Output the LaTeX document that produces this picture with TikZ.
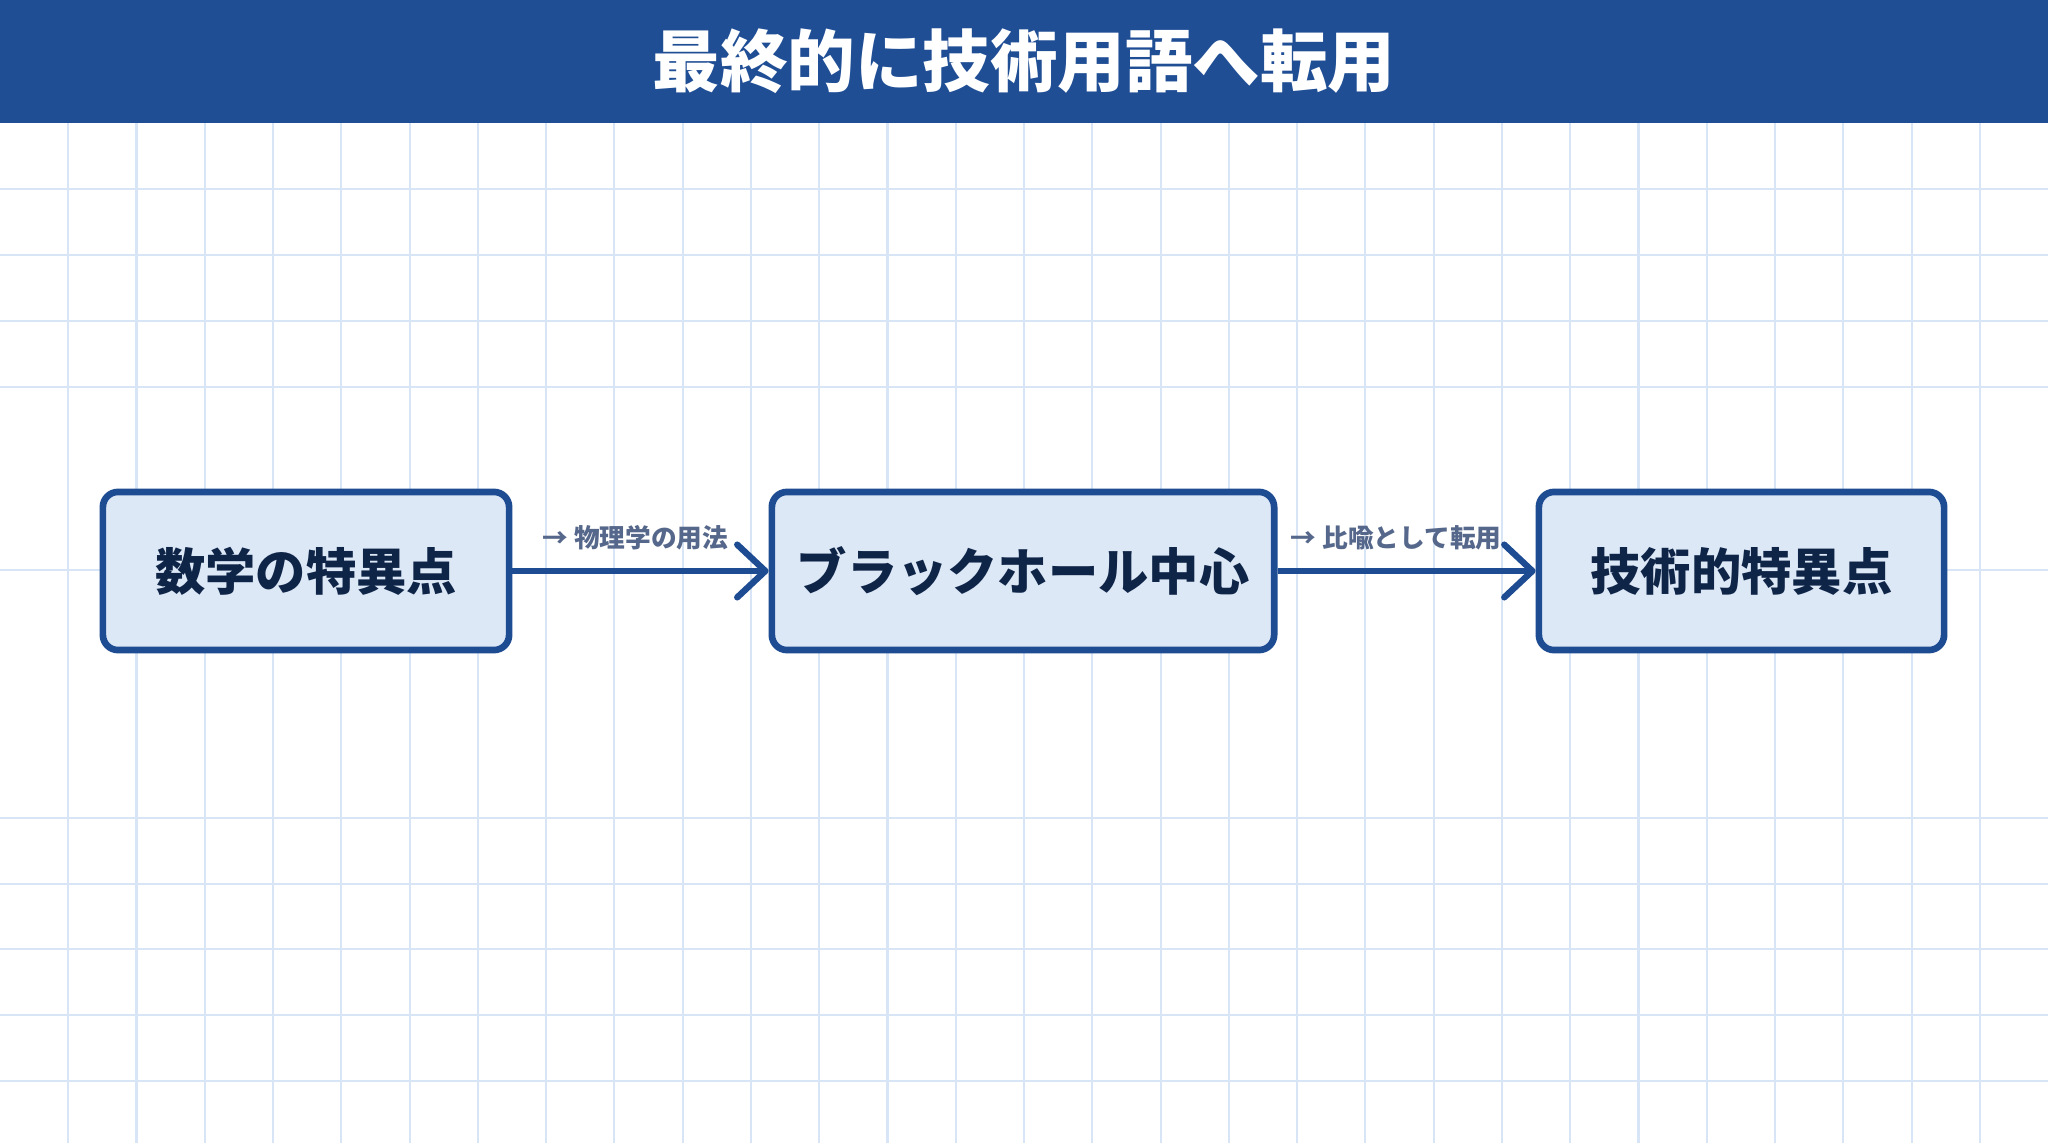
\documentclass[tikz,border=0pt]{standalone}
\usepackage{fontspec}
\newfontfamily\jpfont{Noto Sans CJK JP}
\usetikzlibrary{arrows.meta}
\definecolor{barblue}{HTML}{1F4E95}
\definecolor{boxfill}{HTML}{DDE8F7}
\definecolor{boxline}{HTML}{1E4C92}
\definecolor{boxtext}{HTML}{0F2548}
\definecolor{labeltext}{HTML}{55678A}
\definecolor{gridblue}{HTML}{D8E5F6}

\begin{document}
\begin{tikzpicture}[x=0.01cm,y=-0.01cm,>={Straight Barb[round,length=8pt,width=15pt]},
  stage/.style={draw=boxline,line width=1.9pt,fill=boxfill,rounded corners=4.3pt,minimum height=1.58cm,inner sep=0pt,font=\jpfont\bfseries\fontsize{14.3}{16}\selectfont,text=boxtext},
  hop/.style={->,draw=boxline,line width=1.8pt},
  hoplabel/.style={font=\jpfont\bfseries\fontsize{7.3}{9}\selectfont,text=labeltext,inner sep=0pt,above=5pt}]
  \useasboundingbox (0,0) rectangle (2048,1143);
  \fill[white] (0,0) rectangle (2048,1143);
  % grid
  \foreach \k in {1,...,29}
    \draw[gridblue,line width=0.6pt] ({68.27*\k},123)--({68.27*\k},1143);
  \foreach \y in {189,255,321,387,570,818,884,949,1015,1081}
    \draw[gridblue,line width=0.6pt] (0,\y)--(2048,\y);
  % title
  \fill[barblue] (0,0) rectangle (2048,123);
  \node[font=\jpfont\bfseries\fontsize{19.2}{22}\selectfont,text=white] (title) at (1024,61) {最終的に技術用語へ転用};
  % stages
  \node[stage,minimum width=4.06cm] (math) at (306,571) {数学の特異点};
  \node[stage,minimum width=5.02cm] (bh) at (1023,571) {ブラックホール中心};
  \node[stage,minimum width=4.05cm] (tech) at (1741.5,571) {技術的特異点};
  % hops
  \draw[hop] (math) -- node[hoplabel,pos=0.48] (l1) {→ 物理学の用法} (bh);
  \draw[hop] (bh) -- node[hoplabel,pos=0.46] (l2) {→ 比喩として転用} (tech);
\end{tikzpicture}
\end{document}
